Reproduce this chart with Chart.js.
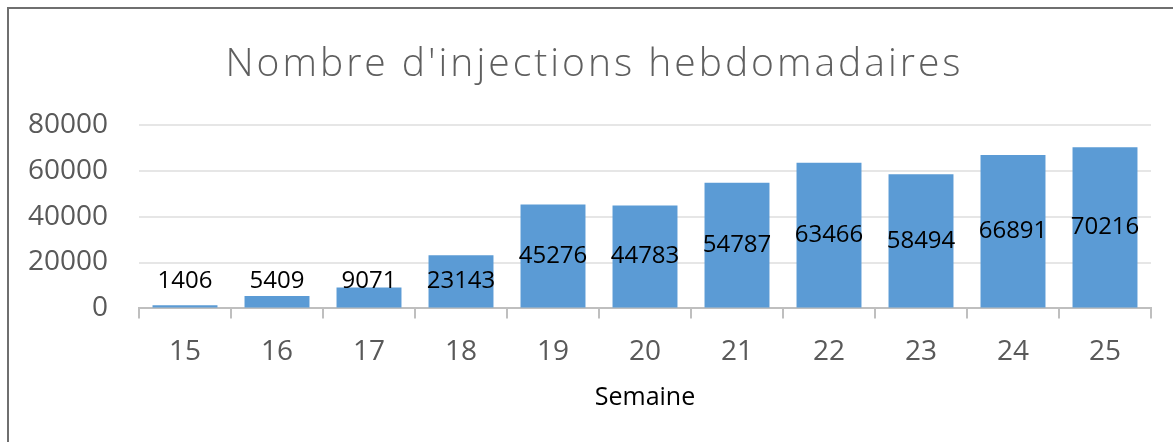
<!DOCTYPE html>
<html>
<head>
<meta charset="utf-8">
<script src="https://cdn.jsdelivr.net/npm/chart.js@4.4.1/dist/chart.umd.min.js"></script>
<style>
  body { margin: 0; background: #fff; }
  #wrap { position: absolute; left: 0; top: 0; width: 1173px; height: 442px; }
  #frame { position: absolute; left: 7px; top: 7px; width: 1180px; height: 450px;
           border-top: 2px solid #6f6f6f; border-left: 2px solid #6f6f6f; pointer-events: none; }
</style>
</head>
<body>
<div id="wrap">
  <canvas id="myChart" width="1173" height="442"></canvas>
  <div id="frame"></div>
</div>
<script>
const semaines = ['15', '16', '17', '18', '19', '20', '21', '22', '23', '24', '25'];
const injections = [1406, 5409, 9071, 23143, 45276, 44783, 54787, 63466, 58494, 66891, 70216];
const yTicks = [0, 20000, 40000, 60000, 80000];

const font = '"Open Sans", sans-serif';

// labels centered in the bar, kept above the baseline when the bar is too short
const barLabels = {
    id: 'barLabels',
    afterDatasetsDraw(chart) {
        const ctx = chart.ctx;
        const meta = chart.getDatasetMeta(0);
        ctx.save();
        ctx.font = '24px ' + font;
        ctx.fillStyle = '#000000';
        ctx.textAlign = 'center';
        ctx.textBaseline = 'middle';
        meta.data.forEach((bar, i) => {
            let y = Math.min((bar.y + bar.base) / 2, bar.base - 26);
            ctx.fillText(String(injections[i]), bar.x, y);
        });
        ctx.restore();
    }
};

let ctx = document.getElementById('myChart').getContext('2d');
let myChart = new Chart(ctx, {
    type: 'bar',
    data: {
        labels: semaines,
        datasets: [{
            label: 'Injections',
            data: injections,
            backgroundColor: '#5B9BD5',
            borderWidth: 0,
            barPercentage: 1,
            categoryPercentage: 0.706
        }]
    },
    options: {
        responsive: false,
        animation: false,
        layout: {
            padding: { left: 26, right: 22, top: 41, bottom: 29 }
        },
        scales: {
            y: {
                min: 0,
                max: 80000,
                afterBuildTicks: axis => { axis.ticks = yTicks.map(v => ({ value: v })); },
                afterFit: axis => { axis.width = 113; },
                grid: { color: '#e6e6e6', lineWidth: 2, drawTicks: false },
                border: { display: false },
                ticks: {
                    color: '#595959',
                    padding: 31,
                    font: { family: font, size: 28 },
                    callback: value => String(value)
                }
            },
            x: {
                grid: {
                    offset: true,
                    drawOnChartArea: false,
                    drawTicks: true,
                    tickLength: 10,
                    color: '#bfbfbf',
                    lineWidth: 2
                },
                border: { display: true, color: '#bfbfbf', width: 2 },
                ticks: {
                    color: '#595959',
                    padding: 17,
                    font: { family: font, size: 28 }
                },
                title: {
                    display: true,
                    text: 'Semaine',
                    color: '#000000',
                    font: { family: font, size: 25 },
                    padding: { top: -3, bottom: 0 }
                }
            }
        },
        plugins: {
            legend: { display: false },
            tooltip: { enabled: false },
            title: {
                display: true,
                text: "Nombre d'injections hebdomadaires",
                color: '#5f5f5f',
                font: { family: font, size: 39, weight: '300' },
                padding: { top: 0, bottom: 37 }
            }
        }
    },
    plugins: [barLabels]
});

// spaced letters for the title, like the original
const titleDraw = myChart.titleBlock.draw;
myChart.titleBlock.draw = function() {
    myChart.ctx.save();
    myChart.ctx.letterSpacing = '3px';
    myChart.ctx.translate(6, 0);
    titleDraw.call(this);
    myChart.ctx.restore();
};
myChart.draw();
</script>
</body>
</html>
